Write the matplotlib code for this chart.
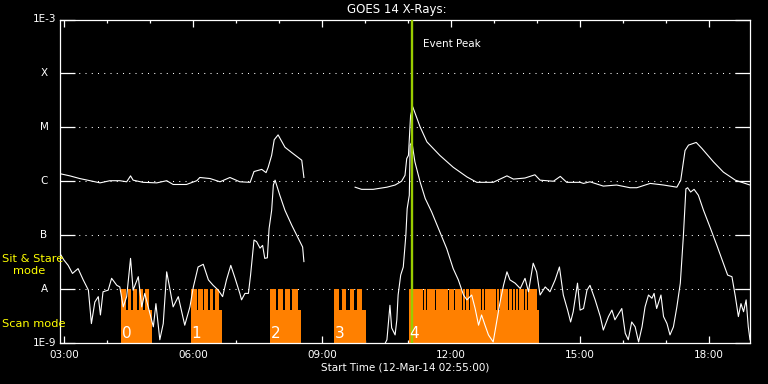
import numpy as np
import matplotlib
matplotlib.use("Agg")
import matplotlib.pyplot as plt
from matplotlib.ticker import FixedLocator, MultipleLocator, FuncFormatter, NullFormatter

# GOES 14 X-ray flux, 12-Mar-14, time in hours of day, flux as log10(W/m^2)
# long channel (1-8 A); NaN = data gap
long_t = [2.91, 3.14, 3.37, 3.61, 3.84, 4.07, 4.30, 4.46, 4.55, 4.61, 4.84, 5.16,
          5.39, 5.54, 5.85, 6.09, 6.16, 6.40, 6.63, 6.86, 7.09, 7.33, 7.42, 7.60,
          7.70, 7.75, 7.83, 7.89, 7.98, 8.14, 8.30, 8.53, 8.58, 9.0,
          9.77, 9.92, 10.19, 10.51, 10.70, 10.85, 10.93, 10.97, 11.01, 11.06, 11.11,
          11.28, 11.44, 11.74, 12.05, 12.37, 12.60, 12.98, 13.30, 13.45, 13.72, 13.95,
          14.07, 14.38, 14.54, 14.69, 15.0, 15.08, 15.23, 15.54, 15.85, 16.16, 16.32,
          16.63, 16.94, 17.25, 17.34, 17.44, 17.52, 17.70, 17.83, 18.10, 18.33, 18.61,
          18.72, 18.95]
long_f = [-5.86, -5.90, -5.95, -5.99, -6.03, -5.99, -5.99, -6.01, -5.90, -5.98, -6.02, -6.03,
          -5.99, -6.06, -6.06, -5.99, -5.93, -5.95, -6.01, -5.93, -6.01, -6.02, -5.82, -5.78,
          -5.84, -5.74, -5.52, -5.23, -5.14, -5.37, -5.47, -5.61, -5.93, np.nan,
          -6.11, -6.15, -6.15, -6.11, -6.07, -6.00, -5.89, -5.58, -5.52, -4.78, -4.62,
          -4.99, -5.27, -5.52, -5.74, -5.92, -6.02, -6.02, -5.90, -5.96, -5.94, -5.88,
          -5.98, -6.00, -5.91, -6.02, -6.02, -6.04, -6.01, -6.09, -6.07, -6.12, -6.12,
          -6.04, -6.07, -6.11, -5.98, -5.43, -5.33, -5.28, -5.39, -5.64, -5.83, -5.98,
          -6.01, -6.07]

# short channel (0.5-4 A)
short_t = [2.91, 3.00, 3.10, 3.20, 3.33, 3.45, 3.57, 3.64, 3.72, 3.80, 3.85, 3.91,
           4.03, 4.11, 4.23, 4.30, 4.38, 4.46, 4.55, 4.61, 4.73, 4.81, 4.88, 4.96,
           5.08, 5.14, 5.23, 5.31, 5.39, 5.47, 5.54, 5.66, 5.81, 5.93, 6.01, 6.12,
           6.24, 6.36, 6.47, 6.59, 6.69, 6.78, 6.88, 6.98, 7.09, 7.13, 7.21, 7.29,
           7.34, 7.42, 7.48, 7.56, 7.62, 7.67, 7.73, 7.77, 7.83, 7.87, 7.91, 8.02,
           8.14, 8.30, 8.45, 8.55, 8.58, 9.0,
           10.44, 10.51, 10.58, 10.62, 10.70, 10.74, 10.77, 10.83, 10.89, 10.95, 10.98,
           11.03, 11.05, 11.09, 11.16, 11.28, 11.40, 11.55, 11.74, 11.90, 12.05, 12.17,
           12.29, 12.37, 12.48, 12.56, 12.64, 12.71, 12.79, 12.87, 12.98, 13.06, 13.14,
           13.22, 13.30, 13.37, 13.49, 13.61, 13.72, 13.80, 13.91, 13.99, 14.07, 14.19,
           14.30, 14.42, 14.52, 14.61, 14.71, 14.78, 14.84, 14.94, 15.0, 15.08, 15.16,
           15.23, 15.35, 15.47, 15.54, 15.66, 15.74, 15.81, 15.97, 16.05, 16.12, 16.20,
           16.28, 16.36, 16.44, 16.51, 16.59, 16.67, 16.72, 16.78, 16.88, 16.94, 17.02,
           17.09, 17.17, 17.25, 17.33, 17.37, 17.40, 17.46, 17.50, 17.57, 17.65, 17.75,
           17.87, 18.02, 18.18, 18.33, 18.43, 18.53, 18.61, 18.68, 18.74, 18.80, 18.86,
           18.91, 18.95]
short_f = [-7.34, -7.46, -7.56, -7.71, -7.62, -7.83, -8.02, -8.64, -8.24, -8.14, -8.48, -8.05,
           -8.02, -7.80, -7.93, -7.96, -8.33, -8.14, -7.43, -8.02, -7.77, -8.33, -8.08, -8.33,
           -8.70, -8.27, -8.94, -8.64, -7.68, -8.02, -8.33, -8.14, -8.67, -8.33, -7.96, -7.59,
           -7.54, -7.83, -7.93, -8.02, -8.14, -7.83, -7.56, -7.80, -8.08, -8.20, -8.08, -8.08,
           -7.74, -7.09, -7.12, -7.24, -7.19, -7.43, -7.42, -6.88, -6.54, -6.07, -5.98, -6.26,
           -6.54, -6.82, -7.06, -7.22, -7.49, np.nan,
           -9.05, -8.94, -8.30, -8.72, -8.85, -8.57, -8.11, -7.74, -7.59, -7.00, -6.51,
           -6.26, -5.33, -5.27, -5.64, -6.01, -6.32, -6.57, -6.94, -7.25, -7.62, -7.83,
           -8.11, -8.20, -8.11, -8.36, -8.67, -8.48, -8.67, -8.85, -8.98, -8.61, -8.24,
           -7.93, -7.68, -7.83, -7.89, -7.99, -7.80, -8.05, -7.52, -7.68, -8.11, -7.96,
           -8.05, -7.83, -7.59, -8.11, -8.39, -8.61, -8.42, -7.89, -8.39, -8.36, -8.02,
           -7.93, -8.20, -8.51, -8.76, -8.51, -8.39, -8.57, -8.36, -8.82, -8.94, -8.61,
           -8.70, -8.98, -8.70, -8.33, -8.11, -8.17, -8.08, -8.36, -8.11, -8.51, -8.64,
           -8.85, -8.70, -8.33, -7.89, -7.40, -7.03, -6.14, -6.12, -6.20, -6.15, -6.26,
           -6.54, -6.85, -7.19, -7.52, -7.74, -7.77, -8.14, -8.51, -8.27, -8.42, -8.20,
           -8.70, -8.94]

# observing mode blocks (hours)
block_start = [4.33, 5.95, 7.79, 9.28, 11.02]
block_end = [5.04, 6.68, 8.51, 10.02, 14.05]
block_names = ["0", "1", "2", "3", "4"]
# sit & stare sub-intervals inside blocks 0-3
stare_start = [4.33, 4.48, 4.61, 4.74, 4.88,
               5.95, 6.12, 6.26, 6.40, 6.52,
               7.79, 7.97, 8.15, 8.31,
               9.28, 9.46, 9.64, 9.82]
stare_end = [4.44, 4.57, 4.71, 4.84, 4.98,
             6.09, 6.23, 6.36, 6.47, 6.61,
             7.93, 8.10, 8.26, 8.44,
             9.40, 9.57, 9.75, 9.94]
# block 4: sit & stare from 11.02 to 14.01, with short breaks at these times
b4_stare = (11.02, 14.01)
b4_breaks = [11.30, 11.36, 11.43, 11.58, 11.64, 11.72, 11.95, 12.02, 12.08, 12.27,
             12.33, 12.43, 12.49, 12.65, 12.70, 12.77, 12.93, 13.00, 13.05, 13.12,
             13.28, 13.33, 13.43, 13.49, 13.56, 13.65, 13.71, 13.77]

scan_level = 4.1e-9
stare_level = 1e-8
event_peak = 11.09

level_vals = [1e-9, 1e-8, 1e-7, 1e-6, 1e-5, 1e-4, 1e-3]
level_labels = ["1E-9", "A", "B", "C", "M", "X", "1E-3"]

orange = "#ff8000"
green = "#99cc00"

fig = plt.figure(figsize=(7.68, 3.84), dpi=100, facecolor="black")
ax = fig.add_axes([60 / 768, 41 / 384, 690 / 768, 323.5 / 384])
ax.set_facecolor("black")
ax.set_yscale("log")
ax.set_xlim(2.91, 18.95)
ax.set_ylim(1e-9, 1e-3)

# mode bars
for s, e in zip(block_start, block_end):
    ax.bar(s, scan_level - 1e-9, width=e - s, bottom=1e-9, align="edge",
           color=orange, linewidth=0, zorder=2)
for s, e in zip(stare_start, stare_end):
    ax.bar(s, stare_level - 1e-9, width=e - s, bottom=1e-9, align="edge",
           color=orange, linewidth=0, zorder=2)
edges = [b4_stare[0]] + b4_breaks + [b4_stare[1]]
brk_w = 0.018
for i in range(len(edges) - 1):
    s = edges[i] + (brk_w / 2 if i > 0 else 0)
    e = edges[i + 1] - (brk_w / 2 if i < len(edges) - 2 else 0)
    ax.bar(s, stare_level - 1e-9, width=e - s, bottom=1e-9, align="edge",
           color=orange, linewidth=0, zorder=2)

# dotted level lines
for v in level_vals[1:-1]:
    ax.axhline(v, color="white", lw=0.75, linestyle=(0, (1, 5)), zorder=1)

ax.plot(long_t, 10 ** np.array(long_f), color="white", lw=0.8, zorder=3)
ax.plot(short_t, 10 ** np.array(short_f), color="white", lw=0.8, zorder=3)

ax.axvline(event_peak, color=green, lw=1.7, zorder=4)
ax.text(event_peak + 0.27, 10 ** (-3.45), "Event Peak", color="white",
        fontsize=7.5, va="center", ha="left", zorder=5)

for s, n in zip(block_start, block_names):
    ax.text(s + 0.02, 10 ** (-8.9), n, color="white", fontsize=11,
            va="baseline", ha="left", zorder=5)

# axes styling
for sp in ax.spines.values():
    sp.set_color("white")
    sp.set_linewidth(0.9)

ax.xaxis.set_major_locator(MultipleLocator(3))
ax.xaxis.set_minor_locator(MultipleLocator(1))
ax.xaxis.set_major_formatter(FuncFormatter(lambda v, p: "%02d:00" % int(round(v))))
ax.tick_params(axis="x", which="major", direction="in", length=5, width=0.9,
               color="white", labelcolor="white", labelsize=7.5, top=True, pad=5)
ax.tick_params(axis="x", which="minor", direction="in", length=2.5, width=0.9,
               color="white", top=True)

ax.yaxis.set_major_locator(FixedLocator(level_vals))
ax.yaxis.set_minor_locator(FixedLocator([]))
ax.yaxis.set_major_formatter(NullFormatter())
ax.tick_params(axis="y", which="major", direction="in", length=11, width=0.9,
               color="white", left=True, right=True)

for v, lab in zip(level_vals, level_labels):
    if lab.startswith("1E"):
        ax.text(-4 / 690, v, lab, transform=ax.get_yaxis_transform(), color="white",
                fontsize=7.5, ha="right", va="center")
    else:
        ax.text(-16 / 690, v, lab, transform=ax.get_yaxis_transform(), color="white",
                fontsize=7.5, ha="center", va="center")

ax.set_xlabel("Start Time (12-Mar-14 02:55:00)", color="white", fontsize=7.5, labelpad=2)
fig.text(397 / 768, 1 - 9 / 384, "GOES 14 X-Rays:", color="white", fontsize=8.5,
         ha="center", va="center")

fig.text(2 / 768, 1 - 259 / 384, "Sit & Stare", color="yellow", fontsize=8.2,
         ha="left", va="center")
fig.text(13 / 768, 1 - 271 / 384, "mode", color="yellow", fontsize=8.2,
         ha="left", va="center")
fig.text(2 / 768, 1 - 324 / 384, "Scan mode", color="yellow", fontsize=8.2,
         ha="left", va="center")

fig.savefig("out.png", dpi=100, facecolor="black")
